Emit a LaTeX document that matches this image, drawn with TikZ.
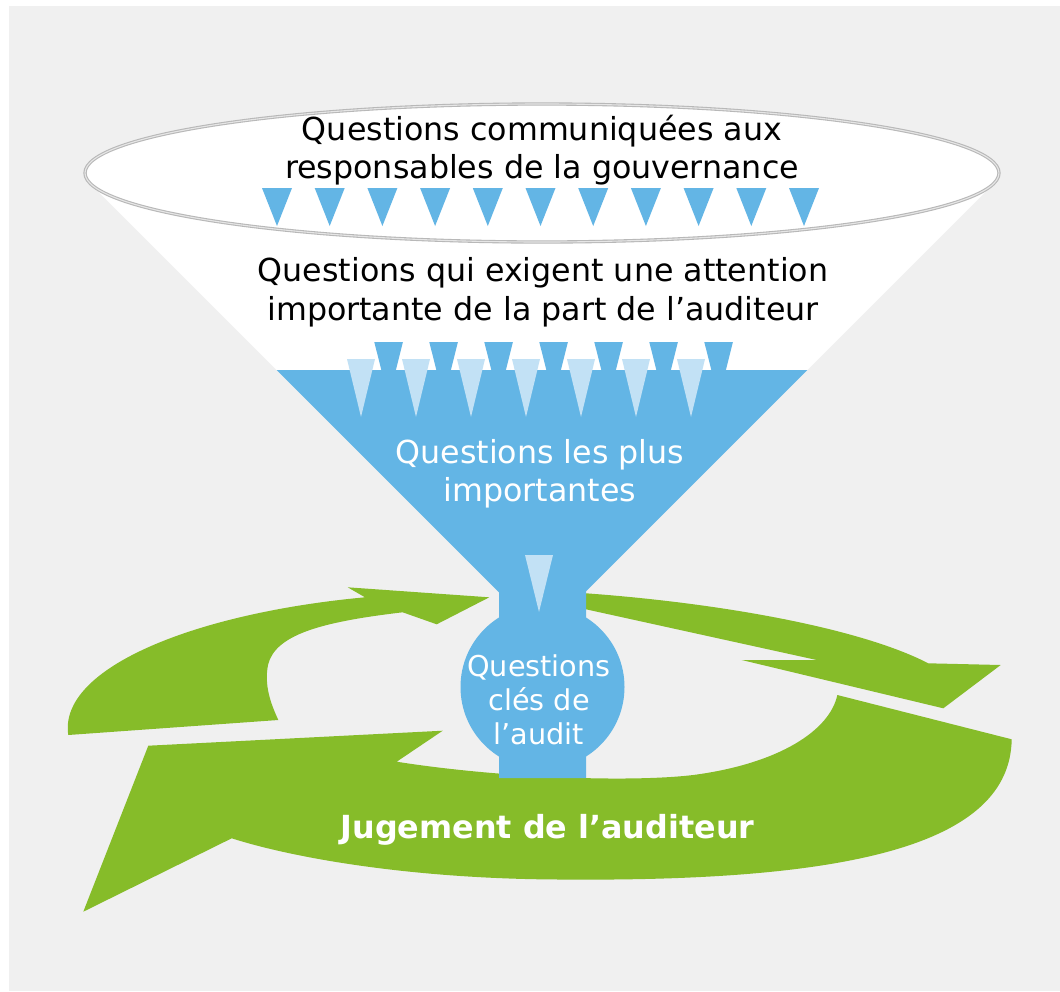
\documentclass[tikz,border=0pt]{standalone}
\usepackage{fontspec}
\setmainfont{DejaVu Sans}
\definecolor{bg}{HTML}{F0F0F0}
\definecolor{funnelblue}{HTML}{63B5E5}
\definecolor{paleblue}{HTML}{C2E1F5}
\definecolor{leafgreen}{HTML}{86BC29}
\definecolor{rimgrey}{HTML}{B8B8B8}
\definecolor{rimlight}{HTML}{E6E6E6}
\begin{document}
\begin{tikzpicture}[x=1pt,y=-1pt,
  txtbase/.style={anchor=base, inner sep=0pt, font=\fontsize{31.7}{38}\selectfont},
  darklabel/.style={txtbase, text=black},
  lightlabel/.style={txtbase, text=white},
  smalllabel/.style={anchor=base, inner sep=0pt, text=white, font=\fontsize{28.7}{34}\selectfont},
  boldlabel/.style={anchor=base, inner sep=0pt, text=white, font=\fontsize{31.8}{38}\selectfont\bfseries},
  arrowband/.style={fill=leafgreen}]
\useasboundingbox (0,0) rectangle (1060,991);
\fill[white] (0,0) rectangle (1060,991);
\fill[bg] (9,6) rectangle (1060,991);

% --- green cycle of arrows ---
% upper left arrow
\fill[arrowband] (68.3,735) .. controls (58,668) and (195,613) .. (365,597.3)
  -- (347.7,587.3) -- (489.3,597.3) -- (436.7,624.3) -- (402.7,612.3)
  .. controls (320,622) and (275,635) .. (268,665)
  .. controls (264,686) and (271,704) .. (278.3,720)
  -- cycle;
% upper right arrow
\fill[arrowband] (580,593.3) -- (586,593.3) .. controls (720,603) and (860,628) .. (928.3,663.3)
  -- (1000.7,665) -- (943.3,708.3) -- (741.7,660) -- (816.7,660) -- (586,609.3) -- (580,609.3) -- cycle;
% bottom arrow
\fill[arrowband] (837.3,695) -- (1011.7,739.3)
  .. controls (1010,845) and (850,882) .. (560,879.5)
  .. controls (420,879) and (300,860) .. (231.7,838.3)
  -- (83.3,911.7) -- (148.3,745.7) -- (442.7,730.7) -- (396.7,761.7)
  .. controls (500,778) and (630,782.5) .. (693.3,775)
  .. controls (780,763.5) and (830,730) .. (837.3,695)
  -- cycle;

% --- funnel ---
% white upper cone, tangent to the rim
\fill[white] (90.3,183.6) -- (276.7,370) -- (807.3,370) -- (993.7,183.6) -- cycle;
% dark triangles falling into the blue level
\foreach \k in {0,...,6}
  \fill[funnelblue] ({374.3+55*\k},342) -- ({402.9+55*\k},342) -- ({388.6+55*\k},399) -- cycle;
% blue lower cone and neck
\fill[funnelblue] (276.7,370) -- (807.3,370) -- (586,591.3) -- (586,778) -- (499,778) -- (499,592.3) -- cycle;
\fill[funnelblue] (542.5,687) circle[radius=82];
% pale triangles
\foreach \k in {0,...,6}
  \fill[paleblue] ({347+55*\k},359) -- ({375+55*\k},359) -- ({361+55*\k},417) -- cycle;
\fill[paleblue] (525,555) -- (553,555) -- (539,612) -- cycle;
% rim of the funnel
\filldraw[fill=white, draw=rimgrey, line width=1.1pt, double=rimlight, double distance=1.1pt]
  (542,173) ellipse[x radius=457, y radius=69];
% top row of triangles
\foreach \k in {0,...,10}
  \fill[funnelblue] ({262+52.7*\k},188) -- ({292+52.7*\k},188) -- ({277+52.7*\k},226) -- cycle;

% --- labels ---
\node[darklabel] (gov1) at (542,140) {Questions communiquées aux};
\node[darklabel] (gov2) at (542,178.3) {responsables de la gouvernance};
\node[darklabel] (att1) at (543,281.7) {Questions qui exigent une attention};
\node[darklabel] (att2) at (543,320) {importante de la part de l’auditeur};
\node[lightlabel] (imp1) at (540,463) {Questions les plus};
\node[lightlabel] (imp2) at (540,501) {importantes};
\node[smalllabel] (kam1) at (539,676.7) {Questions};
\node[smalllabel] (kam2) at (539,710) {clés de};
\node[smalllabel] (kam3) at (539,744) {l’audit};
\node[boldlabel] (judg) at (547.5,838.3) {Jugement de l’auditeur};
\end{tikzpicture}
\end{document}
